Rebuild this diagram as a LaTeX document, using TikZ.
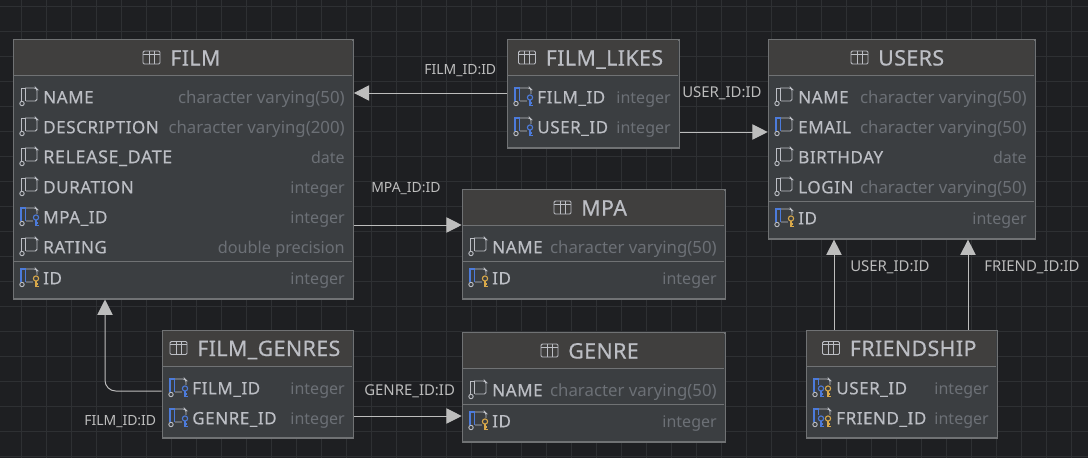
\documentclass[tikz,border=0pt]{standalone}
\usepackage{fontspec}
\setmainfont{Noto Sans}
\usetikzlibrary{arrows.meta}
\definecolor{bgc}{HTML}{1E1F22}
\definecolor{gridc}{HTML}{2E3033}
\definecolor{bodyc}{HTML}{3B3E41}
\definecolor{headc}{HTML}{403F3E}
\definecolor{edgec}{HTML}{707274}
\definecolor{textc}{HTML}{BCBEC4}
\definecolor{typec}{HTML}{6C7076}
\definecolor{linkc}{HTML}{BDBDBD}
\definecolor{fkc}{HTML}{4C7BDB}
\definecolor{pkc}{HTML}{D9A94A}
\newfontfamily\medfont[FakeBold=0.4,LetterSpace=3]{Noto Sans}
\newfontfamily\titlefont[FakeBold=0.4,LetterSpace=2]{Noto Sans}
\newcommand{\smalltype}[1]{{\fontsize{12}{14}\selectfont #1}}
\tikzset{
  x=0.75pt,y=-0.75pt,
  tbl/.style={draw=edgec,fill=bodyc,line width=0.9pt,rectangle,inner sep=0pt,anchor=north west},
  titletext/.style={anchor=base west,inner sep=0pt,text=textc,font=\titlefont\fontsize{16}{16}\selectfont},
  coltext/.style={anchor=base west,inner sep=0pt,text=textc,font=\medfont\fontsize{12.8}{14}\selectfont},
  typetext/.style={anchor=base east,inner sep=0pt,text=typec,font=\fontsize{12.6}{14}\selectfont},
  linktext/.style={anchor=base west,inner sep=0pt,text=linkc,font=\fontsize{11.2}{12}\selectfont},
  linkshort/.style={linktext,font=\fontsize{10.5}{12}\selectfont},
  link/.style={draw=linkc,line width=0.75pt,-{Triangle[length=11.5pt,width=11.5pt]}},
  ico/.style={draw=textc,line width=0.7pt},
}
% \dbtable{name}{x0}{y0}{x1}{y1}{head bottom}{icon x}{title}
\newcommand{\dbtable}[8]{
  \node[tbl,minimum width={(#4-#2)*0.75pt},minimum height={(#5-#3)*0.75pt}] (#1) at (#2-0.8,#3-0.6) {};
  \fill[headc] (#2,#3) rectangle (#4-2,#6);
  \draw[edgec,line width=0.75pt] (#2,#6) -- (#4-2,#6);
  \draw[ico,rounded corners=1pt] (#7,#3+11) rectangle (#7+17,#3+24);
  \draw[ico] (#7,#3+14) -- (#7+17,#3+14) (#7+6,#3+11) -- (#7+6,#3+24) (#7+11,#3+11) -- (#7+11,#3+24);
  \node[titletext] (#1-title) at (#7+27,#3+25.5) {#8};
}
% base column icon
\newcommand{\colicon}[2]{
  \draw[ico,rounded corners=1.2pt] (#1+5,#2-9) -- (#1+16,#2-9) -- (#1+17,#2-8) -- (#1+17,#2+4) -- (#1+6,#2+4);
  \draw[ico] (#1+5.5,#2-9) -- (#1+1,#2-9) -- (#1+1,#2+4);
  \draw[ico] (#1+5.5,#2-9) -- (#1+5.5,#2+4);
  \draw[ico] (#1+2,#2+6.5) circle (2.2);
}
\newcommand{\fkbar}[2]{\draw[fkc,line width=1pt] (#1+1,#2+4) -- (#1+1,#2-9) -- (#1+5.5,#2-9) -- (#1+5.5,#2+4);}
\newcommand{\keyicon}[3]{
  \fill[bodyc] (#1-3.5,#2-3.5) rectangle (#1+3.5,#2+9);
  \draw[#3,line width=0.8pt] (#1,#2) circle (2.6);
  \draw[#3,line width=0.8pt] (#1,#2+2.6) -- (#1,#2+8) -- (#1+3,#2+8) (#1,#2+5.5) -- (#1+2,#2+5.5);
}
\newcommand{\coltype}[6]{% kind x y name typeRight type
  \csname icon#1\endcsname{#2}{#3}
  \node[coltext] at (#2+23,#3+6.3) {#4};
  \node[typetext] at (#5,#3+6.3) {#6};
}
\newcommand{\iconplain}[2]{\colicon{#1}{#2}}
\newcommand{\iconblue}[2]{\colicon{#1}{#2}\fkbar{#1}{#2}}
\newcommand{\iconfk}[2]{\colicon{#1}{#2}\fkbar{#1}{#2}\keyicon{#1+16}{#2+0.5}{fkc}}
\newcommand{\iconpk}[2]{\colicon{#1}{#2}\fkbar{#1}{#2}\keyicon{#1+16}{#2+0.5}{pkc}}
\newcommand{\iconpfk}[2]{\colicon{#1}{#2}\fkbar{#1}{#2}\keyicon{#1+8}{#2+0.5}{fkc}\keyicon{#1+15}{#2+0.5}{pkc}}
\begin{document}
\begin{tikzpicture}
\useasboundingbox (0,0) rectangle (1088,458);
\fill[bgc] (0,0) rectangle (1088,458);
\foreach \gx in {0,...,43} {\draw[gridc,line width=0.75pt] ({21.5+25*\gx},0) -- ({21.5+25*\gx},458);}
\foreach \gy in {0,...,18} {\draw[gridc,line width=0.75pt] (0,{6.5+25*\gy}) -- (1088,{6.5+25*\gy});}

\dbtable{film}{13.5}{40}{353.5}{299}{75}{143}{FILM}
\coltype{plain}{20}{97}{NAME}{345}{character varying(50)}
\coltype{plain}{20}{127}{DESCRIPTION}{345}{character varying(200)}
\coltype{plain}{20}{157}{{\fontsize{13.5}{14}\selectfont RELEASE\_DATE}}{345}{\smalltype{date}}
\coltype{plain}{20}{187}{DURATION}{345}{\smalltype{integer}}
\coltype{fk}{20}{217}{MPA\_ID}{345}{\smalltype{integer}}
\coltype{plain}{20}{247}{RATING}{345}{{\fontsize{12.2}{14}\selectfont double precision}}
\draw[edgec,line width=1.2pt] (14,261.5) -- (352,261.5);
\coltype{pk}{20}{278}{ID}{345}{\smalltype{integer}}

\dbtable{likes}{507.5}{40}{679.5}{148}{75}{518.5}{FILM\_LIKES}
\coltype{fk}{514}{97}{FILM\_ID}{671}{\smalltype{integer}}
\coltype{fk}{514}{127}{USER\_ID}{671}{\smalltype{integer}}

\dbtable{users}{768.5}{40}{1035.5}{239}{75}{851}{USERS}
\coltype{plain}{775}{97}{NAME}{1027}{character varying(50)}
\coltype{blue}{775}{127}{EMAIL}{1027}{character varying(50)}
\coltype{plain}{775}{157}{BIRTHDAY}{1027}{\smalltype{date}}
\coltype{plain}{775}{187}{LOGIN}{1027}{character varying(50)}
\draw[edgec,line width=1.2pt] (769,201.5) -- (1034,201.5);
\coltype{pk}{775}{218}{ID}{1027}{\smalltype{integer}}

\dbtable{mpa}{462.5}{190}{725.5}{299}{225}{554}{MPA}
\coltype{plain}{469}{247}{NAME}{717}{character varying(50)}
\draw[edgec,line width=1.2pt] (463,261.5) -- (724,261.5);
\coltype{pk}{469}{278}{ID}{717}{\smalltype{integer}}

\dbtable{genre}{462.5}{333}{725.5}{442}{368}{541}{GENRE}
\coltype{plain}{469}{390}{NAME}{717}{character varying(50)}
\draw[edgec,line width=1.2pt] (463,404.5) -- (724,404.5);
\coltype{pk}{469}{421}{ID}{717}{\smalltype{integer}}

\dbtable{fgenres}{162.5}{330.5}{353.5}{438}{366}{170}{FILM\_GENRES}
\coltype{fk}{169}{388}{FILM\_ID}{345}{\smalltype{integer}}
\coltype{fk}{169}{418}{GENRE\_ID}{345}{\smalltype{integer}}

\dbtable{friend}{806.5}{330.5}{997.5}{438}{366}{822.5}{FRIENDSHIP}
\coltype{pfk}{813}{388}{USER\_ID}{989}{\smalltype{integer}}
\coltype{pfk}{813}{418}{FRIEND\_ID}{989}{\smalltype{integer}}

% connectors
\draw[link] (likes.west |- 0,93) -- (film.east |- 0,93);
\draw[link] (likes.east |- 0,132) -- (users.west |- 0,132);
\draw[link] (film.east |- 0,225) -- (mpa.west |- 0,225);
\draw[link] (fgenres.east |- 0,416) -- (genre.west |- 0,416);
\draw[link,rounded corners=8pt] (fgenres.west |- 0,391) -- (105,391) -- (105,299.5);
\draw[link] (friend.north -| 834,0) -- (users.south -| 834,0);
\draw[link] (friend.north -| 968,0) -- (users.south -| 968,0);

% connector labels
\node[linkshort] (l1) at (424,74.5) {FILM\_ID:ID};
\node[linktext] (l2) at (682,97.5) {USER\_ID:ID};
\node[linkshort] (l3) at (371,192.5) {MPA\_ID:ID};
\node[linktext] (l4) at (364,395.5) {GENRE\_ID:ID};
\node[linkshort] (l5) at (84,425.5) {FILM\_ID:ID};
\node[linktext] (l6) at (850,271.5) {USER\_ID:ID};
\node[linktext] (l7) at (984,271.5) {FRIEND\_ID:ID};
\end{tikzpicture}
\end{document}
